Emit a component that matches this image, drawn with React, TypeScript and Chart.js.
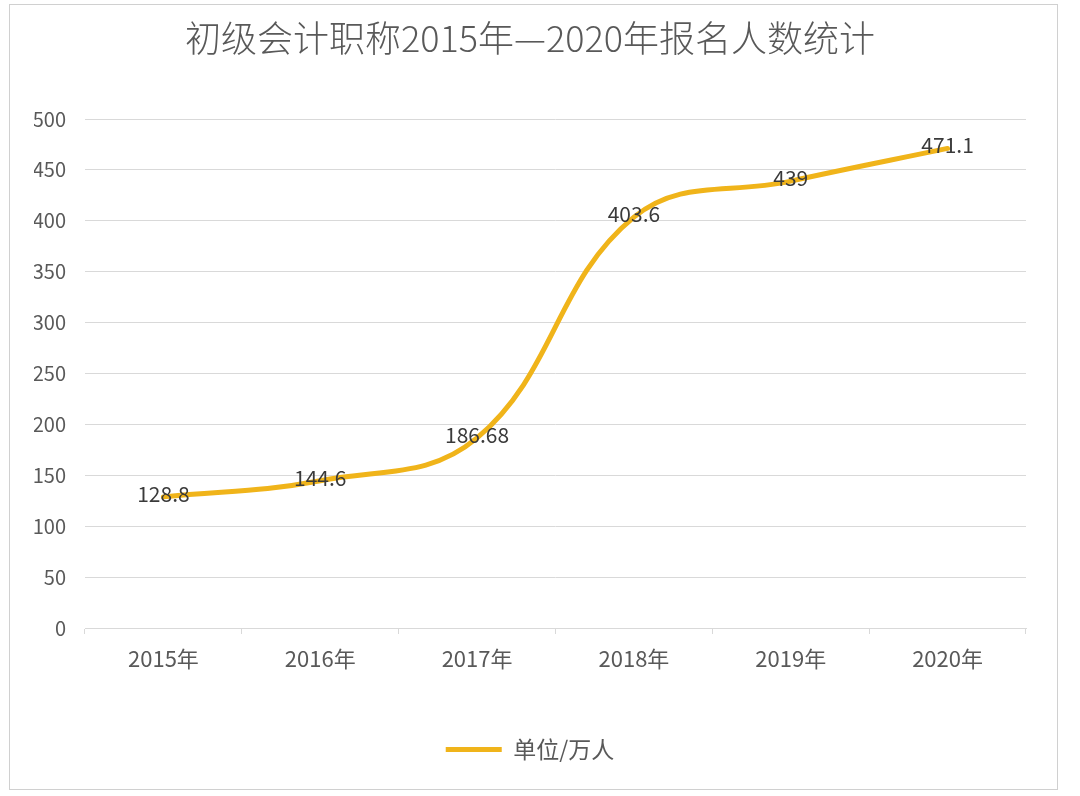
import React, { useEffect, useRef } from 'react';
import { Chart, registerables } from 'chart.js';

Chart.register(...registerables);

const chartTitle = '初级会计职称2015年—2020年报名人数统计';
const categories = ['2015年', '2016年', '2017年', '2018年', '2019年', '2020年'];
const seriesName = '单位/万人';
const values = [128.8, 144.6, 186.68, 403.6, 439, 471.1];
const valueLabels = ['128.8', '144.6', '186.68', '403.6', '439', '471.1'];
const yMin = 0;
const yMax = 500;
const yStep = 50;

const FONT = '"Noto Sans CJK SC", "Noto Sans", sans-serif';
const LINE_COLOR = '#F0B41A';
const TEXT_COLOR = '#595959';
const GRID_COLOR = '#D9D9D9';

const valueLabelPlugin = {
  id: 'valueLabelPlugin',
  afterDatasetsDraw(chart: any) {
    const { ctx } = chart;
    const meta = chart.getDatasetMeta(0);
    ctx.save();
    ctx.font = `21px ${FONT}`;
    ctx.fillStyle = '#3A3A3A';
    ctx.textAlign = 'center';
    ctx.textBaseline = 'middle';
    meta.data.forEach((pt: any, i: number) => {
      ctx.fillText(valueLabels[i], pt.x, pt.y - 3);
    });
    ctx.restore();
  },
};

export default function App() {
  const canvasRef = useRef<HTMLCanvasElement | null>(null);

  useEffect(() => {
    if (!canvasRef.current) return;
    const chart = new Chart(canvasRef.current, {
      type: 'line',
      data: {
        labels: categories,
        datasets: [
          {
            label: seriesName,
            data: values,
            borderColor: LINE_COLOR,
            backgroundColor: LINE_COLOR,
            borderWidth: 5,
            borderCapStyle: 'round',
            borderJoinStyle: 'round',
            pointRadius: 0,
            pointHoverRadius: 0,
            tension: 0.4,
            fill: false,
          },
        ],
      },
      options: {
        responsive: false,
        animation: false,
        devicePixelRatio: 1,
        layout: { padding: { left: 24, right: 31, top: 0, bottom: 18 } },
        plugins: {
          title: {
            display: true,
            text: chartTitle,
            color: TEXT_COLOR,
            font: { family: FONT, size: 36, weight: 300, lineHeight: 1.2 },
            padding: { top: 12, bottom: 58.8 },
          },
          legend: {
            display: true,
            position: 'bottom',
            labels: {
              usePointStyle: true,
              pointStyle: 'line',
              pointStyleWidth: 56,
              color: TEXT_COLOR,
              font: { family: FONT, size: 23 },
              padding: 10,
            },
          },
          tooltip: { enabled: false },
        },
        scales: {
          x: {
            offset: true,
            grid: {
              offset: true,
              drawOnChartArea: false,
              drawTicks: true,
              tickLength: 6,
              color: GRID_COLOR,
            },
            border: { display: true, color: GRID_COLOR },
            ticks: {
              color: TEXT_COLOR,
              font: { family: FONT, size: 22 },
              padding: 11,
              maxRotation: 0,
            },
            afterFit: (s: any) => {
              s.height = 100;
            },
          },
          y: {
            min: yMin,
            max: yMax,
            grid: { color: GRID_COLOR, drawTicks: false, lineWidth: 1 },
            border: { display: false },
            ticks: {
              stepSize: yStep,
              color: TEXT_COLOR,
              font: { family: FONT, size: 20 },
              padding: 19,
            },
            afterFit: (s: any) => {
              s.width = 51;
            },
          },
        },
      },
      plugins: [valueLabelPlugin],
    });
    return () => chart.destroy();
  }, []);

  return (
    <div
      style={{
        position: 'absolute',
        left: 9,
        top: 4,
        width: 1047,
        height: 784,
        border: '1px solid #D0D0D0',
        background: '#FFFFFF',
      }}
    >
      <canvas ref={canvasRef} width={1047} height={784} style={{ display: 'block', width: 1047, height: 784 }} />
    </div>
  );
}
